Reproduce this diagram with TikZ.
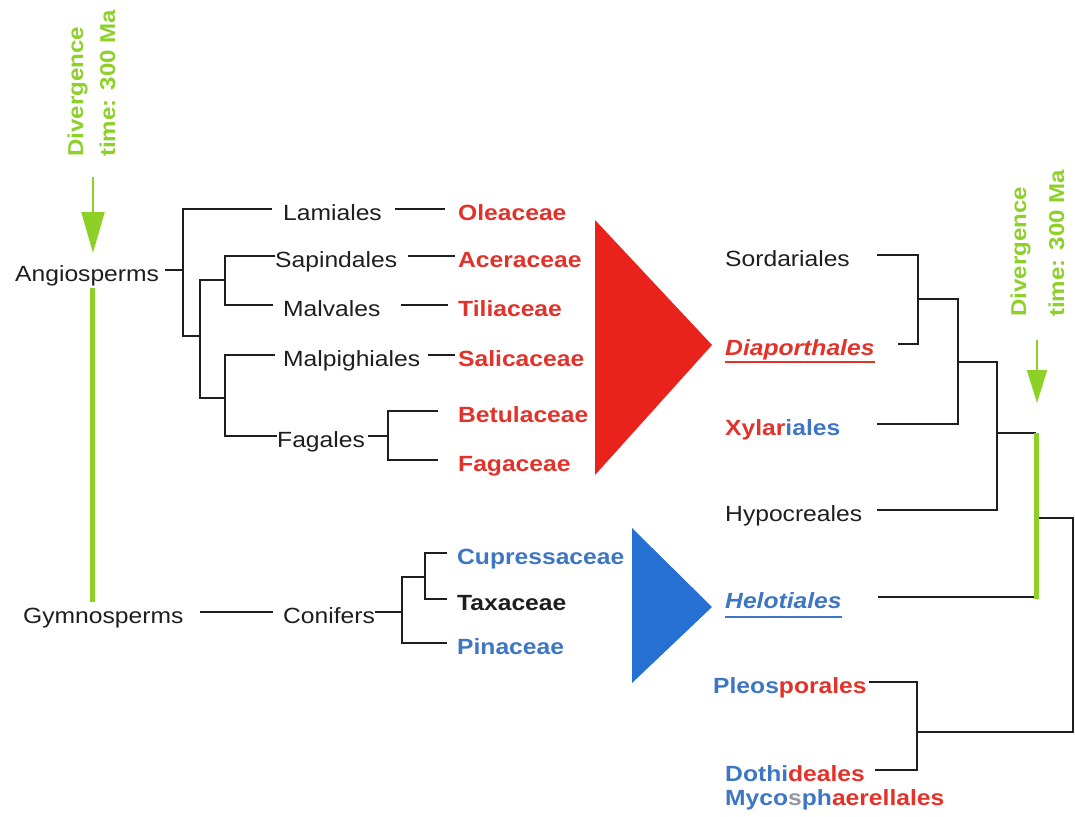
\documentclass[tikz,border=0pt]{standalone}
\usepackage{fontspec}
\setmainfont{Liberation Sans}[FakeStretch=1.12]
\usetikzlibrary{arrows.meta}
\definecolor{tred}{RGB}{226,50,42}
\definecolor{trired}{RGB}{234,34,28}
\definecolor{tblue}{RGB}{62,118,196}
\definecolor{triblue}{RGB}{38,112,212}
\definecolor{tgreen}{RGB}{140,208,40}
\definecolor{ink}{RGB}{30,30,30}
\definecolor{smudge}{RGB}{150,150,165}
\begin{document}
\fontsize{22}{26}\selectfont
\begin{tikzpicture}[x=1pt,y=-1pt,
  lbl/.style={anchor=west, inner sep=0pt, text height=22pt, text depth=0pt, text=ink},
  fam/.style={lbl, font=\bfseries},
  branch/.style={draw=ink, line width=2.6pt},
  gline/.style={draw=tgreen, line width=5pt},
  gstem/.style={draw=tgreen, line width=2pt},
  glabel/.style={rotate=90, anchor=base west, inner sep=0pt, text=tgreen, font=\fontsize{21.5}{24}\selectfont\bfseries},
  uline/.style={line width=1.6pt}]
\useasboundingbox (0,0) rectangle (1075,816);

% ---------- left labels ----------
\node[lbl] (ang) at (15,270) {Angiosperms};
\node[lbl] (lam) at (283,209) {Lamiales};
\node[fam,text=tred] (ole) at (458,209) {Oleaceae};
\node[lbl] (sap) at (275,256) {Sapindales};
\node[fam,text=tred] (ace) at (458,256) {Aceraceae};
\node[lbl] (mal) at (283,305) {Malvales};
\node[fam,text=tred] (til) at (458,305) {Tiliaceae};
\node[lbl] (mpg) at (283,355) {Malpighiales};
\node[fam,text=tred] (sal) at (458,355) {Salicaceae};
\node[lbl] (fag) at (277,436) {Fagales};
\node[fam,text=tred] (bet) at (458,411) {Betulaceae};
\node[fam,text=tred] (fgc) at (458,460) {Fagaceae};

\node[lbl] (gym) at (23,612) {Gymnosperms};
\node[lbl] (con) at (283,612) {Conifers};
\node[fam,text=tblue] (cup) at (457,553) {Cupressaceae};
\node[fam] (tax) at (457,599) {Taxaceae};
\node[fam,text=tblue] (pin) at (457,643) {Pinaceae};

% ---------- right labels ----------
\node[lbl] (sor) at (725,255) {Sordariales};
\node[fam,text=tred,font=\bfseries\itshape] (dia) at (725,344) {Diaporthales};
\node[fam] (xyl) at (725,424) {{\color{tred}Xylar}{\color{tblue}iales}};
\node[lbl] (hyp) at (725,510) {Hypocreales};
\node[fam,text=tblue,font=\bfseries\itshape] (hel) at (725,597) {Helotiales};
\node[fam] (ple) at (713,682) {{\color{tblue}Pleos}{\color{tred}porales}};
\node[fam] (dot) at (725,770) {{\color{tblue}Dothi}{\color{tred}deales}};
\node[fam] (myc) at (725,794) {{\color{tblue}Myco}{\color{smudge}s}{\color{tblue}ph}{\color{tred}aerellales}};

% underlines
\draw[uline,tred] ([yshift=-7pt]dia.south west) -- ([yshift=-7pt]dia.south east);
\draw[uline,tblue] ([yshift=-9pt]hel.south west) -- ([yshift=-9pt]hel.south east);

% ---------- junctions ----------
\coordinate (j1) at (183,270);
\coordinate (j2) at (200,336);
\coordinate (j3) at (225,280);
\coordinate (j4) at (225,398);
\coordinate (j5) at (388,436);
\coordinate (j6) at (402,612);
\coordinate (j7) at (425,577);

\coordinate (k1) at (918,299);
\coordinate (k2) at (958,362);
\coordinate (k3) at (997,433);
\coordinate (g1) at (1036,433);
\coordinate (g2) at (hel.east -| g1);
\coordinate (k4) at (1036,518);
\coordinate (k5) at (917,732);

% ---------- left tree ----------
\draw[branch, shorten <=6pt] (ang.east) -- (j1);
\draw[branch, shorten <=11pt] (lam.west) -| (j1) |- (j2);
\draw[branch] (j3) -| (j2) |- (j4);
\draw[branch, shorten >=10pt] (sap.west) -| (j3) |- (mal.west);
\draw[branch, shorten <=8pt] (mpg.west) -| (j4) |- (fag.west);
\draw[branch, shorten <=3pt] (fag.east) -- (j5);
\draw[branch, shorten <=20pt, shorten >=20pt] (bet.west) -| (j5) |- (fgc.west);

\draw[branch, shorten <=13pt, shorten >=13pt] (lam.east) -- (ole.west);
\draw[branch, shorten <=11pt, shorten >=3pt] (sap.east) -- (ace.west);
\draw[branch, shorten <=20pt, shorten >=10pt] (mal.east) -- (til.west);
\draw[branch, shorten <=8pt, shorten >=3pt] (mpg.east) -- (sal.west);

\draw[branch, shorten <=16pt, shorten >=10pt] (gym.east) -- (con.west);
\draw[branch] (con.east) -- (j6);
\draw[branch, shorten <=10pt, shorten >=10pt] (cup.west) -| (j7) |- (tax.west);
\draw[branch, shorten >=10pt] (j7) -| (j6) |- (pin.west);

% ---------- right tree ----------
\draw[branch, shorten <=27pt, shorten >=23pt] (sor.east) -| (k1) |- (dia.east);
\draw[branch, shorten >=37pt] (k1) -| (k2) |- (xyl.east);
\draw[branch, shorten >=15pt] (k2) -| (k3) |- (hyp.east);
\draw[branch] (k3) -- (g1);
\draw[branch, shorten <=36pt] (hel.east) -- (g2);
\draw[branch] (k4) -- ++(37,0) |- (k5);
\draw[branch, shorten <=2pt, shorten >=10pt] (ple.east) -| (k5) |- (dot.east);

% ---------- triangles ----------
\fill[trired] (595,220) -- (712,345) -- (595,475) -- cycle;
\fill[triblue] (632,528) -- (712,607) -- (632,683) -- cycle;

% ---------- green divergence markers ----------
\node[glabel] (d1a) at (83,157) {Divergence};
\node[glabel] (d1b) at (115,157) {time: 300 Ma};
\coordinate (a1s) at (93,177);
\coordinate (a1t) at (93,253);
\draw[gstem, -{Triangle[length=41pt,width=23pt]}] (a1s) -- (a1t);
\coordinate (gA) at (92,288);
\coordinate (gB) at (92,602);
\draw[gline] (gA) -- (gB);

\node[glabel] (d2a) at (1026,317) {Divergence};
\node[glabel] (d2b) at (1064,317) {time: 300 Ma};
\coordinate (a2s) at (1037,340);
\coordinate (a2t) at (1037,403);
\draw[gstem, -{Triangle[length=33pt,width=20pt]}] (a2s) -- (a2t);
\draw[gline] (g1) -- ([yshift=-2pt]g2);
\end{tikzpicture}
\end{document}
